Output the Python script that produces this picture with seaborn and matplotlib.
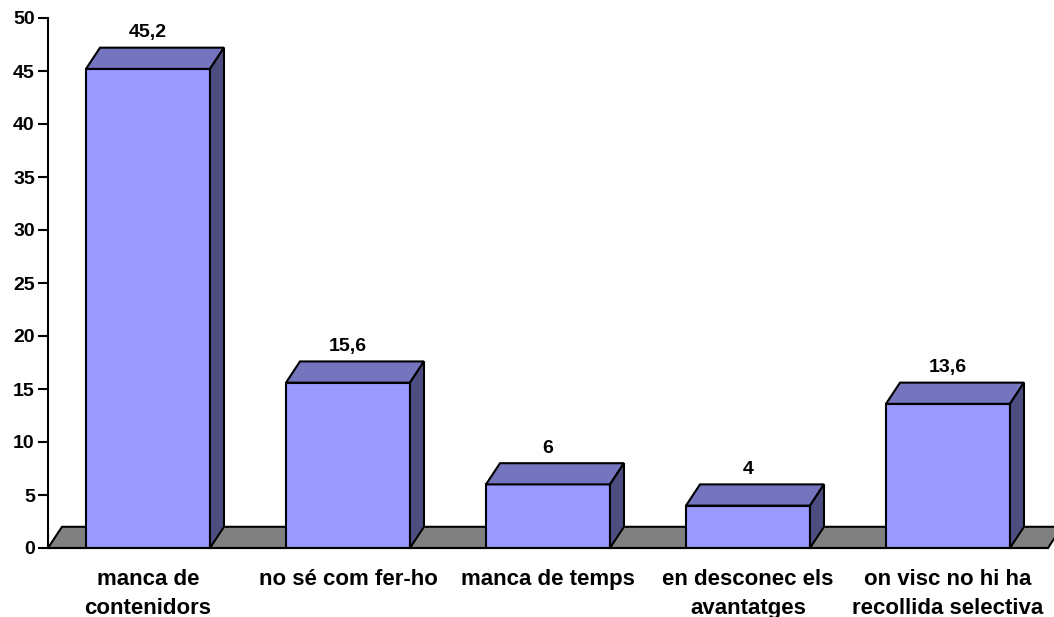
import matplotlib
matplotlib.use("Agg")
import matplotlib.pyplot as plt
from matplotlib.patches import Polygon
import seaborn as sns
import pandas as pd

categories = ["manca de\ncontenidors", "no sé com fer-ho", "manca de temps",
              "en desconec els\navantatges", "on visc no hi ha\nrecollida selectiva"]
values = [45.2, 15.6, 6, 4, 13.6]
value_labels = ["45,2", "15,6", "6", "4", "13,6"]
yticks = list(range(0, 51, 5))

sns.set_theme(style="white")
plt.rcParams['font.family'] = ['Liberation Sans', 'DejaVu Sans']
plt.rcParams['font.weight'] = 'bold'

FRONT = "#9999FF"
TOP = "#7474BF"
SIDE = "#4D4D82"
FLOOR = "#808080"
LW = 1.5
DX, DY = 0.07, 2.0  # depth offset for pseudo-3D

fig = plt.figure(figsize=(10.54, 6.17), dpi=100)
ax = fig.add_axes([48 / 1054, 69 / 617, 1000 / 1054, 530 / 617])

df = pd.DataFrame({"cat": categories, "val": values})
sns.barplot(data=df, x="cat", y="val", color=FRONT, saturation=1, width=0.62,
            edgecolor="black", linewidth=LW, ax=ax, zorder=2)

ax.set_xlim(-0.5, len(categories) - 0.5)
ax.set_ylim(0, 50)

# floor slab
x0, x1 = -0.5, len(categories) - 0.5
floor = Polygon([(x0, 0), (x1, 0), (x1 + DX, DY), (x0 + DX, DY)], closed=True,
                facecolor=FLOOR, edgecolor="black", linewidth=LW, zorder=0.5,
                clip_on=False, joinstyle="miter")
ax.add_patch(floor)

for p, lab in zip(list(ax.patches)[:len(values)], value_labels):
    x = p.get_x()
    w = p.get_width()
    h = p.get_height()
    top = Polygon([(x, h), (x + w, h), (x + w + DX, h + DY), (x + DX, h + DY)], closed=True,
                  facecolor=TOP, edgecolor="black", linewidth=LW, zorder=2, joinstyle="miter")
    side = Polygon([(x + w, 0), (x + w + DX, DY), (x + w + DX, h + DY), (x + w, h)], closed=True,
                   facecolor=SIDE, edgecolor="black", linewidth=LW, zorder=2, joinstyle="miter")
    ax.add_patch(top)
    ax.add_patch(side)
    ax.text(x + w / 2, h + DY + 1.4, lab, ha="center", va="center",
            fontsize=14, fontweight="bold", color="black")

ax.set_xlabel("")
ax.set_ylabel("")
ax.set_yticks(yticks)
ax.set_yticklabels([str(t) for t in yticks], fontsize=14, fontweight="bold")
ax.set_xticks(range(len(categories)))
ax.set_xticklabels(categories, fontsize=16, fontweight="bold", linespacing=1.5)
ax.set_xticks([i - 0.5 for i in range(len(categories) + 1)], minor=True)
ax.tick_params(axis="x", which="major", length=0, pad=15, colors="black")
ax.tick_params(axis="x", which="minor", length=7.5, width=LW, direction="out", color="black")
ax.tick_params(axis="y", which="major", length=7.5, width=LW, direction="out", pad=2,
               left=True, color="black", labelcolor="black")

for s in ["top", "right"]:
    ax.spines[s].set_visible(False)
for s in ["left", "bottom"]:
    ax.spines[s].set_linewidth(LW)
    ax.spines[s].set_color("black")
ax.set_facecolor("white")
fig.patch.set_facecolor("white")

fig.savefig("out.png", dpi=100, facecolor="white")
